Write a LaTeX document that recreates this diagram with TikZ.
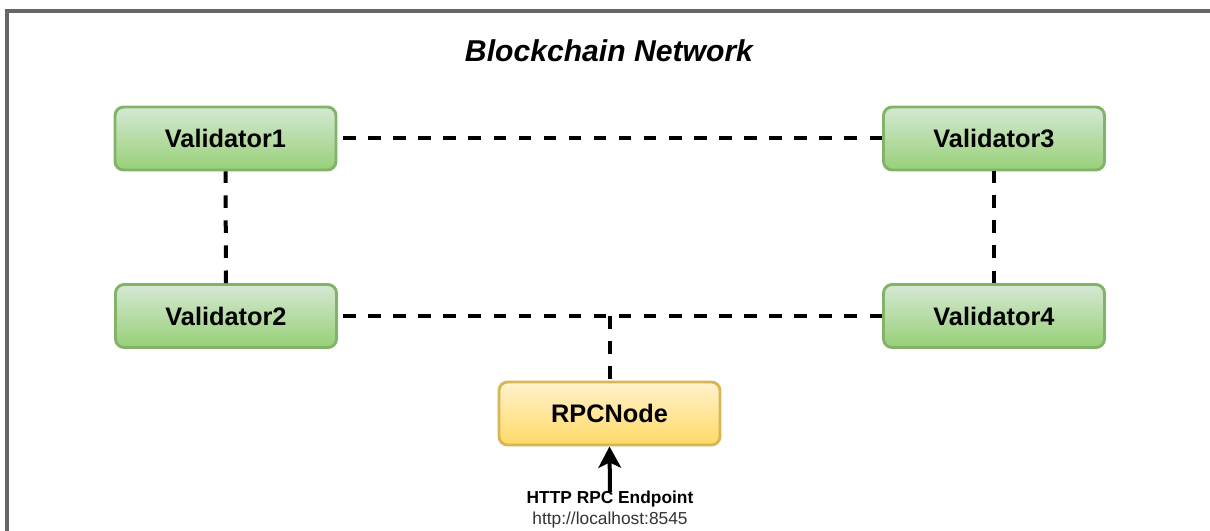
\documentclass[tikz,border=0pt]{standalone}
\usepackage{fontspec}
\setmainfont{Liberation Sans}
\usetikzlibrary{arrows.meta}
\definecolor{vfilltop}{HTML}{D5E8D4}
\definecolor{vfillbot}{HTML}{97D077}
\definecolor{vline}{HTML}{82B366}
\definecolor{rfilltop}{HTML}{FFF2CC}
\definecolor{rfillbot}{HTML}{FFD966}
\definecolor{rline}{HTML}{D6B656}
\definecolor{framegray}{HTML}{666666}
\definecolor{urlgray}{HTML}{333333}
\begin{document}
\begin{tikzpicture}[x=0.75pt,y=-0.75pt,
  box/.style={rounded corners=6.5pt, line width=2.2pt,
    minimum width=165.75pt, minimum height=47.25pt, inner sep=0pt,
    font=\fontsize{19}{22}\selectfont\bfseries},
  validator/.style={box, draw=vline, top color=vfilltop, bottom color=vfillbot},
  rpcbox/.style={box, draw=rline, top color=rfilltop, bottom color=rfillbot},
  link/.style={line width=3pt, dash pattern=on 9.4pt off 9.4pt},
  lbl/.style={inner sep=0pt, font=\fontsize{13}{15}\selectfont},
]
\useasboundingbox (0,0) rectangle (1210,531);
\fill[white] (0,0) rectangle (1210,531);

% outer frame of the network area
\draw[framegray, line width=3pt] (7,531) -- (7,11) -- (1210,11);

% title
\node[font=\fontsize{22.6}{26}\selectfont\bfseries\itshape] (title) at (609,51) {Blockchain Network};

% nodes
\node[validator] (v1) at (225.5,138.5) {Validator1};
\node[validator] (v3) at (994,138.5) {Validator3};
\node[validator] (v2) at (226,316) {Validator2};
\node[validator] (v4) at (994,316) {Validator4};
\node[rpcbox] (rpc) at (609.5,413.5) {RPCNode};

% peer links
\draw[link] (v3) -- (v1);
\draw[link] (v2) -- (v1);
\draw[link] (v4) -- (v3);
\draw[link] (v4) -- (v2);
\coordinate (join) at (rpc.north |- v2.east);
\draw[link] (join) -- (rpc.north);

% endpoint labels and access arrow
\node[lbl, font=\fontsize{13}{15}\selectfont\bfseries] (ep) at (610,499) {HTTP RPC Endpoint};
\node[lbl, text=urlgray] (url) at (610,520) {http://localhost:8545};
\coordinate (epTop) at (610,492);
\draw[line width=3pt, -{Stealth[length=16pt, width=17pt, inset=4pt]}] (epTop) -- (rpc.south);
\end{tikzpicture}
\end{document}
